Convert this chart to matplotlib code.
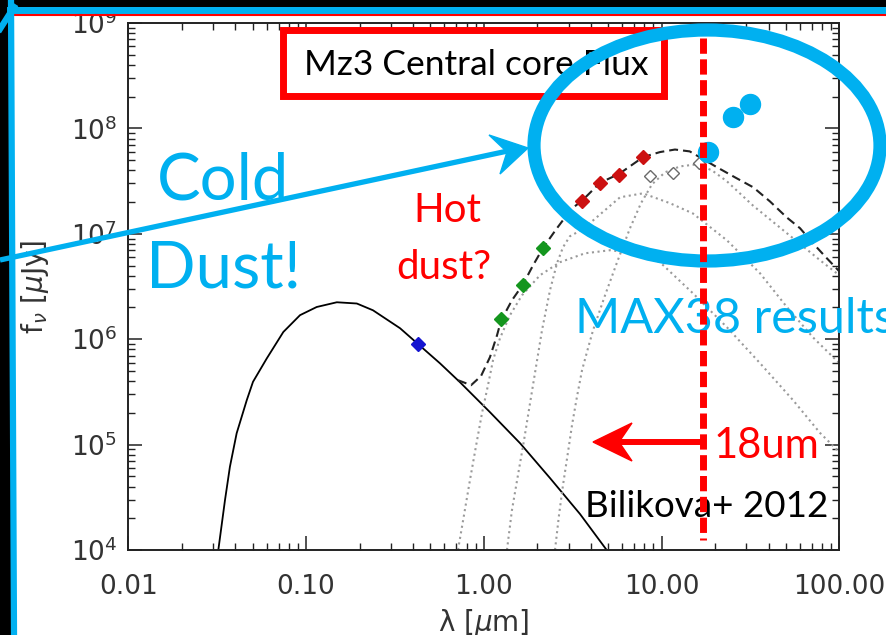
import matplotlib
matplotlib.use('Agg')
import matplotlib.pyplot as plt
from matplotlib.patches import Ellipse, Rectangle, Polygon
from matplotlib.transforms import blended_transform_factory
from matplotlib.ticker import LogLocator, FixedLocator, FixedFormatter, NullFormatter, LogFormatterMathtext

# --- data (wavelength in micron, flux in micro-Jy) ---
star_lam = [0.0321, 0.035, 0.0373, 0.0407, 0.0464, 0.0503, 0.0601, 0.0745, 0.0925, 0.1148,
            0.149, 0.193, 0.238, 0.338, 0.427, 0.567, 0.735, 1.083, 1.60, 2.36, 3.48, 4.91]
star_f = [1.0e4, 2.98e4, 6.16e4, 1.28e5, 2.64e5, 3.94e5, 6.56e5, 1.17e6, 1.69e6, 2.02e6,
          2.24e6, 2.18e6, 1.88e6, 1.27e6, 8.98e5, 5.9e5, 3.9e5, 2.03e5, 1.03e5, 4.8e4, 2.19e4, 1.0e4]

tot_lam = [0.716, 0.848, 0.964, 1.083, 1.187, 1.25, 1.44, 1.66, 1.89, 2.16, 2.57, 3.12, 3.56,
           4.51, 5.77, 7.89, 9.8, 11.9, 14.4, 20.4, 25.9, 32.8, 40.7, 50.6, 60.1, 71.4, 84.1, 100]
tot_f = [4.08e5, 3.66e5, 4.46e5, 6.75e5, 1.09e6, 1.5e6, 2.34e6, 3.3e6, 5.0e6, 7.4e6, 1.12e7,
         1.73e7, 2.05e7, 3.05e7, 3.7e7, 5.35e7, 5.96e7, 6.3e7, 6.05e7, 4.3e7, 3.43e7, 2.76e7,
         2.03e7, 1.43e7, 1.13e7, 8.07e6, 5.98e6, 4.4e6]

hot_lam = [0.716, 0.774, 0.836, 0.904, 0.977, 1.056, 1.127, 1.233, 1.404, 1.64, 2.07, 2.68,
           3.71, 5.13, 7.09, 9.8, 15.0, 23.3, 35.8, 54.9, 77.9, 100]
hot_f = [1e4, 2.15e4, 4.61e4, 9.68e4, 1.99e5, 3.66e5, 6.32e5, 1.02e6, 1.69e6, 2.61e6, 4.04e6,
         5.37e6, 6.53e6, 6.98e6, 6.53e6, 5.37e6, 2.73e6, 1.30e6, 5.92e5, 2.64e5, 1.29e5, 8.49e4]

warm_lam = [1.35, 1.44, 1.557, 1.684, 1.82, 1.94, 2.126, 2.357, 2.58, 2.79, 3.05, 3.34, 4.12,
            5.84, 7.86, 11.15, 15.0, 23.3, 35.8, 50.8, 71.1, 100]
warm_f = [1e4, 2.39e4, 5.14e4, 1.10e5, 2.47e5, 4.76e5, 1.22e6, 2.91e6, 5.25e6, 7.45e6, 9.47e6,
          1.03e7, 1.34e7, 2.22e7, 2.42e7, 1.95e7, 1.56e7, 8.68e6, 4.22e6, 2.01e6, 1.04e6, 5.92e5]

cool_lam = [2.515, 2.65, 2.79, 2.977, 3.135, 3.34, 3.57, 3.857, 4.12, 4.81, 5.62, 6.645, 7.66,
            8.84, 10.46, 12.7, 15.83, 19.2, 23.3, 32.6, 50.8, 77.9, 100]
cool_f = [1e4, 2.15e4, 4.13e4, 8.49e4, 1.53e5, 2.82e5, 5.08e5, 8.21e5, 1.22e6, 2.61e6, 5.37e6,
          1.13e7, 1.95e7, 2.95e7, 3.83e7, 4.36e7, 4.56e7, 4.0e7, 3.15e7, 1.86e7, 1.01e7, 5.61e6, 4.04e6]

opt_lam = [0.427]
opt_f = [8.98e5]
nir_lam = [1.25, 1.66, 2.16]
nir_f = [1.54e6, 3.3e6, 7.4e6]
mir_lam = [3.56, 4.51, 5.77, 7.89]
mir_f = [2.05e7, 3.05e7, 3.64e7, 5.35e7]
open_lam = [8.61, 11.6, 16.3]
open_f = [3.5e7, 3.78e7, 4.69e7]
max38_lam = [18.3, 25.3, 31.5]
max38_f = [5.96e7, 1.28e8, 1.69e8]

cut_lam = 17.1  # the red "18um" line
xticks = [0.01, 0.1, 1, 10, 100]
xticklabels = ['0.01', '0.10', '1.00', '10.00', '100.00']

CYAN = '#00B0F0'
RED = '#FF0000'
slide_font = 'Lato'

fig = plt.figure(figsize=(8.86, 6.35), dpi=100)
fig.patch.set_facecolor('white')
ax = fig.add_axes([0.1448, 0.1339, 0.8025, 0.8299])
ax.set_xscale('log')
ax.set_yscale('log')
ax.set_xlim(0.01, 100)
ax.set_ylim(1e4, 1e9)

ax.plot(star_lam, star_f, color='black', lw=1.3)
for lam, f in [(hot_lam, hot_f), (warm_lam, warm_f), (cool_lam, cool_f)]:
    ax.plot(lam, f, color='#9a9a9a', lw=1.5, ls=(0, (1, 1.7)))
ax.plot(tot_lam, tot_f, color='#222222', lw=1.5, ls=(0, (4.3, 2.4)))

ax.plot(opt_lam, opt_f, 'D', color='#1515d0', ms=7, zorder=5)
ax.plot(nir_lam, nir_f, 'D', color='#14961e', ms=7, zorder=5)
ax.plot(mir_lam, mir_f, 'D', color='#cc1111', ms=7, zorder=5)
ax.plot(open_lam, open_f, 'D', mfc='white', mec='#6a6a6a', mew=1.0, ms=6, zorder=5)
ax.plot(max38_lam, max38_f, 'o', color=CYAN, ms=14.4, zorder=6)

ax.xaxis.set_major_locator(FixedLocator(xticks))
ax.xaxis.set_major_formatter(FixedFormatter(xticklabels))
ax.xaxis.set_minor_locator(LogLocator(base=10, subs=range(2, 10), numticks=20))
ax.xaxis.set_minor_formatter(NullFormatter())
ax.yaxis.set_major_locator(LogLocator(base=10, numticks=10))
ax.yaxis.set_major_formatter(LogFormatterMathtext())
ax.yaxis.set_minor_locator(LogLocator(base=10, subs=range(2, 10), numticks=20))
ax.yaxis.set_minor_formatter(NullFormatter())

ax.tick_params(which='both', direction='in', top=True, right=True, color='#222222',
               labelcolor='#333333', labelsize=19)
ax.tick_params(which='major', length=10, width=1.1)
ax.tick_params(which='minor', length=5, width=1.0)
ax.tick_params(axis='x', pad=17)
ax.tick_params(axis='y', pad=8)
for sp in ax.spines.values():
    sp.set_linewidth(1.4)
    sp.set_color('#222222')

ax.set_ylabel(r'f$_\nu$ [$\mu$Jy]', fontsize=20, color='#333333', va='center')
ax.yaxis.set_label_coords(-0.131, 0.5)
ax.set_xlabel('\u03bb [$\\mu$m]', fontsize=20, color='#333333', va='top')
ax.xaxis.set_label_coords(0.5, -0.108)

# --- slide decorations, in pixel coordinates of the picture ---
ov = fig.add_axes([0, 0, 1, 1], zorder=5)
ov.set_autoscale_on(False)
ov.set_xlim(0, 886)
ov.set_ylim(635, 0)
ov.axis('off')

ov.add_patch(Rectangle((0, 0), 886, 6, color='black', zorder=1))
ov.add_patch(Rectangle((0, 0), 10, 635, color='black', zorder=1))
ov.plot([10, 886], [9.5, 9.5], color=CYAN, lw=5, zorder=2)
ov.plot([15, 886], [14.5, 14.5], color=RED, lw=1.5, zorder=2)
ov.plot([11, 14], [0, 635], color=CYAN, lw=4.5, zorder=2)
ov.plot([0, 14], [29, 7], color=CYAN, lw=4.5, zorder=2)

ov.add_patch(Rectangle((283, 30), 381, 66, facecolor='white', edgecolor=RED, lw=5, zorder=3))
ov.text(476, 75, 'Mz3 Central core Flux', fontsize=25.5, family=slide_font, color='black',
        ha='center', va='baseline', zorder=4)

ov.add_patch(Ellipse((707, 145.5), 346, 231, fill=False, edgecolor=CYAN, lw=9.5, zorder=5))

ov.plot([0, 510], [260, 150.5], color=CYAN, lw=3.8, solid_capstyle='butt', zorder=5)
ov.add_patch(Polygon([(528, 148), (489, 135), (507, 152), (500, 174)], closed=True,
                     color=CYAN, zorder=5))

ov.text(223, 200, 'Cold', fontsize=47, family=slide_font, color=CYAN, ha='center', va='baseline', zorder=6)
ov.text(224, 288, 'Dust!', fontsize=47, family=slide_font, color=CYAN, ha='center', va='baseline', zorder=6)
ov.text(447, 222, 'Hot', fontsize=29, family=slide_font, color=RED, ha='center', va='baseline', zorder=6)
ov.text(444, 279, 'dust?', fontsize=29, family=slide_font, color=RED, ha='center', va='baseline', zorder=6)
ov.text(575, 333, 'MAX38 results', fontsize=35, family=slide_font, color=CYAN, ha='left', va='baseline', zorder=6)
ov.text(714, 458, '18um', fontsize=30, family=slide_font, color=RED, ha='left', va='baseline', zorder=6)
ov.text(585, 517, 'Bilikova+ 2012', fontsize=26.5, family=slide_font, color='black', ha='left', va='baseline', zorder=6)

mixed = blended_transform_factory(ax.transData, ov.transData)
ov.plot([cut_lam, cut_lam], [38, 540], transform=mixed, color=RED, lw=5,
        ls=(0, (2.2, 0.8)), zorder=7)
ov.plot([703, 615], [442, 442], color=RED, lw=4.3, solid_capstyle='butt', zorder=7)
ov.add_patch(Polygon([(593, 442), (632, 423), (619, 442), (632, 461)], closed=True,
                     color=RED, zorder=7))

fig.savefig('out.png', dpi=100, facecolor=fig.get_facecolor())
